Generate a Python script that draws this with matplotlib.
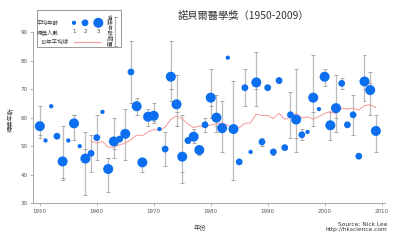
"""Nobel Prize in Physiology or Medicine, 1950-2009: laureates' age at award."""

import matplotlib
matplotlib.use("Agg")
import matplotlib.pyplot as plt  # noqa: E402
from matplotlib.patches import Rectangle  # noqa: E402
import numpy as np  # noqa: E402

CJK = ["Noto Sans CJK TC", "DejaVu Sans"]

# age of each laureate in the award year, one list per year
years = list(range(1950, 2010))
ages = [
    [64, 54, 53], [52], [64], [53, 54], [57, 39, 38], [52], [61, 52, 61], [50], [55, 49, 33], [54, 41],
    [61, 45], [62], [46, 34, 46], [60, 49, 46], [52, 53], [45, 63, 55], [87, 65], [67, 64, 61], [46, 46, 41], [63, 61, 57],
    [59, 65, 58], [56], [43, 55], [87, 70, 66], [75, 57, 62], [37, 61, 41], [51, 53], [53, 51, 56], [49, 50, 47], [55, 60],
    [60, 64, 77], [68, 55, 57], [66, 48, 55], [81], [73, 38, 57], [44, 45], [64, 77], [48], [64, 70, 83], [53, 50],
    [71, 70], [47, 49], [72, 74], [50, 49], [53, 69], [77, 53, 48], [56, 52], [55], [82, 57, 62], [63],
    [77, 75, 71], [62, 58, 52], [75, 55, 60], [74, 70], [58, 57], [54, 68], [47, 46], [70, 66, 82], [72, 61, 76], [61, 48, 57],
]
x_ticks = [1950, 1960, 1970, 1980, 1990, 2000, 2010]
y_ticks = [30, 40, 50, 60, 70, 80, 90]
window = 10

BLUE = "#0b6ff0"
BAR = "#bbbbbb"
CAP = "#8c8c8c"
PINK = "#f59a9a"
TXT = "#444444"
SIZE_PX = {1: 4.3, 2: 6.8, 3: 10.0}

mean_age = [np.mean(a) for a in ages]
count = [len(a) for a in ages]

# trailing 10-year average over all laureates in the window
avg_years, avg_vals = [], []
for i in range(window - 1, len(years)):
    pool = [v for a in ages[i - window + 1:i + 1] for v in a]
    avg_years.append(years[i])
    avg_vals.append(np.mean(pool))

fig = plt.figure(figsize=(4, 2.4), dpi=100)
ax = fig.add_axes([33 / 400, 1 - 203.3 / 240, 352 / 400, 171.3 / 240])

for yr, a in zip(years, ages):
    if len(a) > 1:
        ax.vlines(yr, min(a), max(a), color=BAR, lw=0.9, zorder=1)
        ax.hlines(a, yr - 0.35, yr + 0.35, color=CAP, lw=0.5, zorder=1)

ax.plot(avg_years, avg_vals, color=PINK, lw=0.7, zorder=2)
ax.scatter(years, mean_age, s=[(SIZE_PX[n] * 0.72) ** 2 for n in count],
           color=BLUE, edgecolors="none", zorder=3)

ax.set_xlim(1948.8, 2010.6)
ax.set_ylim(30, 90)
ax.set_xticks(x_ticks)
ax.set_yticks(y_ticks)
for s in ("top", "right"):
    ax.spines[s].set_visible(False)
for s in ("left", "bottom"):
    ax.spines[s].set_color("#999999")
    ax.spines[s].set_linewidth(0.6)
ax.tick_params(direction="out", length=2, width=0.5, color="#999999",
               labelsize=4, labelcolor="#555555", pad=2)

fig.text(178 / 400, 1 - 16 / 240, "諾貝爾醫學獎（1950-2009）", family=CJK,
         fontsize=7.4, color="#333333", ha="left", va="center")
fig.text(11 / 400, 1 - 120 / 240, "得獎年齡", family=CJK, fontsize=4.5,
         color=TXT, rotation=90, ha="center", va="center")
fig.text(200 / 400, 1 - 228 / 240, "年份", family=CJK, fontsize=4.5,
         color=TXT, ha="center", va="center")
fig.text(387 / 400, 1 - 224 / 240, "Source: Nick Lee", fontsize=4.2,
         color="#333333", ha="right", va="center")
fig.text(387 / 400, 1 - 230 / 240, "http://hkscience.com", fontsize=4.2,
         color="#333333", ha="right", va="center")

# legend, laid out in pixel coordinates
lay = fig.add_axes([0, 0, 1, 1], zorder=5)
lay.set_xlim(0, 400)
lay.set_ylim(240, 0)
lay.axis("off")
lay.patch.set_alpha(0)
lay.add_patch(Rectangle((37, 10), 84, 37, fill=False, ec="#888888", lw=0.6))
lay.text(59, 23, "平均年齡", family=CJK, fontsize=4, ha="right", va="center", color=TXT)
lay.text(59, 31.7, "得獎人數", family=CJK, fontsize=4, ha="right", va="center", color=TXT)
for n, px in zip((1, 2, 3), (74, 85, 98.3)):
    lay.scatter([px], [22.8], s=(SIZE_PX[n] * 0.72) ** 2, color=BLUE, edgecolors="none")
    lay.text(px, 31.7, str(n), fontsize=4, ha="center", va="center", color=TXT)
lay.text(40.7, 42.3, "10年平均線", family=CJK, fontsize=4, ha="left", va="center", color=TXT)
lay.plot([74, 100], [42.3, 42.3], color=PINK, lw=0.8)
lay.text(109.3, 30.5, "得獎年齡範圍", family=CJK, fontsize=4, rotation=270,
         ha="center", va="center", color=TXT)
lay.plot([115, 115], [16.7, 45.5], color=BAR, lw=0.9)
lay.plot([113.5, 116.5], [16.7, 16.7], color=CAP, lw=0.5)
lay.plot([113.5, 116.5], [45.5, 45.5], color=CAP, lw=0.5)

fig.savefig("out.png", dpi=100)
